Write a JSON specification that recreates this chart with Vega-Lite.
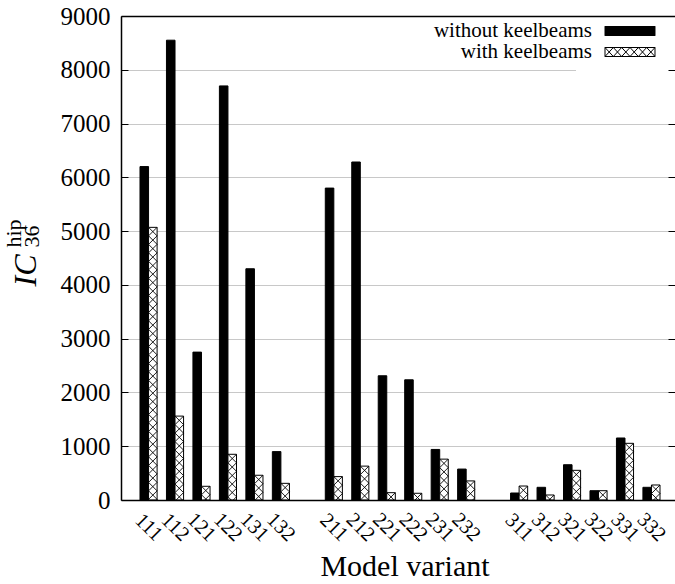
{
  "$schema": "https://vega.github.io/schema/vega-lite/v6.json",
  "width": 554,
  "height": 484,
  "autosize": {"type": "none"},
  "padding": {"left": 121, "top": 16, "right": 0, "bottom": 84},
  "background": "white",
  "config": {
    "font": "Liberation Serif",
    "view": {"stroke": null},
    "style": {
      "guide-label": {"font": "Liberation Serif"},
      "guide-title": {"font": "Liberation Serif"}
    },
    "axis": {
      "labelFont": "Liberation Serif",
      "titleFont": "Liberation Serif",
      "labelColor": "black",
      "titleColor": "black",
      "titleFontWeight": "normal"
    },
    "legend": {"labelFont": "Liberation Serif", "titleFont": "Liberation Serif"}
  },
  "data": {
    "values": [
      {"variant": "111", "series": "without keelbeams", "value": 6200},
      {"variant": "111", "series": "with keelbeams", "value": 5070},
      {"variant": "112", "series": "without keelbeams", "value": 8550},
      {"variant": "112", "series": "with keelbeams", "value": 1560},
      {"variant": "121", "series": "without keelbeams", "value": 2750},
      {"variant": "121", "series": "with keelbeams", "value": 255},
      {"variant": "122", "series": "without keelbeams", "value": 7700},
      {"variant": "122", "series": "with keelbeams", "value": 850},
      {"variant": "131", "series": "without keelbeams", "value": 4300},
      {"variant": "131", "series": "with keelbeams", "value": 460},
      {"variant": "132", "series": "without keelbeams", "value": 900},
      {"variant": "132", "series": "with keelbeams", "value": 310},
      {"variant": "211", "series": "without keelbeams", "value": 5800},
      {"variant": "211", "series": "with keelbeams", "value": 435},
      {"variant": "212", "series": "without keelbeams", "value": 6285},
      {"variant": "212", "series": "with keelbeams", "value": 630},
      {"variant": "221", "series": "without keelbeams", "value": 2310},
      {"variant": "221", "series": "with keelbeams", "value": 136},
      {"variant": "222", "series": "without keelbeams", "value": 2235},
      {"variant": "222", "series": "with keelbeams", "value": 125},
      {"variant": "231", "series": "without keelbeams", "value": 940},
      {"variant": "231", "series": "with keelbeams", "value": 760},
      {"variant": "232", "series": "without keelbeams", "value": 575},
      {"variant": "232", "series": "with keelbeams", "value": 355},
      {"variant": "311", "series": "without keelbeams", "value": 130},
      {"variant": "311", "series": "with keelbeams", "value": 260},
      {"variant": "312", "series": "without keelbeams", "value": 236},
      {"variant": "312", "series": "with keelbeams", "value": 93},
      {"variant": "321", "series": "without keelbeams", "value": 656},
      {"variant": "321", "series": "with keelbeams", "value": 552},
      {"variant": "322", "series": "without keelbeams", "value": 173},
      {"variant": "322", "series": "with keelbeams", "value": 173},
      {"variant": "331", "series": "without keelbeams", "value": 1153},
      {"variant": "331", "series": "with keelbeams", "value": 1054},
      {"variant": "332", "series": "without keelbeams", "value": 236},
      {"variant": "332", "series": "with keelbeams", "value": 279}
    ]
  },
  "layer": [
    {
      "mark": {"type": "bar", "stroke": "black", "strokeWidth": 1},
      "encoding": {
        "x": {
          "field": "variant",
          "type": "nominal",
          "sort": null,
          "scale": {
            "domain": ["111", "112", "121", "122", "131", "132", " ", "211", "212", "221", "222", "231", "232", "  ", "311", "312", "321", "322", "331", "332"],
            "paddingInner": 0.354,
            "paddingOuter": 0.642,
            "align": 0.559
          },
          "axis": {
            "orient": "bottom",
            "title": "Model variant",
            "titleFont": "Liberation Serif",
            "titleFontSize": 30,
            "titleX": 283.5,
            "titleY": 75,
            "titleAlign": "center",
            "titleBaseline": "alphabetic",
            "labelFont": "Liberation Serif",
            "labelAngle": 45,
            "labelAlign": "center",
            "labelBaseline": "middle",
            "labelPadding": 27,
            "labelFontSize": 20.5,
            "labelOverlap": false,
            "ticks": false,
            "tickSize": 0,
            "domain": true,
            "domainColor": "black",
            "domainWidth": 1.5,
            "grid": false,
            "zindex": 1
          }
        },
        "xOffset": {
          "field": "series",
          "type": "nominal",
          "scale": {"domain": ["without keelbeams", "with keelbeams"]}
        },
        "y": {
          "field": "value",
          "type": "quantitative",
          "scale": {"domain": [0, 9000], "nice": false},
          "axis": {
            "orient": "left",
            "values": [0, 1000, 2000, 3000, 4000, 5000, 6000, 7000, 8000, 9000],
            "format": "d",
            "title": "IC",
            "titleFont": "Liberation Serif",
            "titleFontStyle": "italic",
            "titleFontSize": 32,
            "titleAngle": 270,
            "titleAlign": "center",
            "titleBaseline": "alphabetic",
            "titleX": -86,
            "titleY": 254,
            "labelFont": "Liberation Serif",
            "labelFontSize": 25,
            "labelPadding": 18,
            "tickSize": -7,
            "tickColor": "black",
            "domainColor": "black",
            "domainWidth": 1.5,
            "grid": true,
            "gridColor": "#c8c8c8",
            "gridWidth": 1,
            "zindex": 0
          }
        },
        "fill": {
          "field": "series",
          "type": "nominal",
          "scale": {"domain": ["without keelbeams", "with keelbeams"], "range": ["black", "white"]},
          "legend": {
            "orient": "none",
            "legendX": 455,
            "legendY": -18.5,
            "title": null,
            "fillColor": "white",
            "padding": 23,
            "labelFont": "Liberation Serif",
            "labelFontSize": 21,
            "labelColor": "black",
            "labelAlign": "right",
            "labelBaseline": "middle",
            "labelOffset": -28,
            "rowPadding": -1.5,
            "symbolType": "M-1,-1H10.11V1H-1ZM-1,-1L0.85,1M0.85,-1L-1,1M0.85,-1L2.7,1M2.7,-1L0.85,1M2.7,-1L4.56,1M4.56,-1L2.7,1M4.56,-1L6.41,1M6.41,-1L4.56,1M6.41,-1L8.26,1M8.26,-1L6.41,1M8.26,-1L10.11,1M10.11,-1L8.26,1",
            "symbolSize": 81,
            "symbolStrokeColor": "black",
            "symbolStrokeWidth": 1,
            "zindex": 0,
            "encode": {
              "labels": {"update": {"font": {"value": "Liberation Serif"}}},
              "symbols": {"update": {"stroke": {"value": "black"}, "strokeWidth": {"value": 1}}}
            }
          }
        }
      }
    },
    {
      "transform": [{"filter": "datum.series === 'with keelbeams'"}],
      "mark": {
        "type": "point",
        "shape": "M-1,0L1,2L-1,4L1,6L-1,8L1,10L-1,12L1,14L-1,16L1,18L-1,20L1,22L-1,24L1,26L-1,28L1,30L-1,32L1,34L-1,36L1,38L-1,40L1,42L-1,44L1,46L-1,48L1,50L-1,52L1,54L-1,56L1,58L-1,60L1,62L-1,64L1,66L-1,68M1,0L-1,2L1,4L-1,6L1,8L-1,10L1,12L-1,14L1,16L-1,18L1,20L-1,22L1,24L-1,26L1,28L-1,30L1,32L-1,34L1,36L-1,38L1,40L-1,42L1,44L-1,46L1,48L-1,50L1,52L-1,54L1,56L-1,58L1,60L-1,62L1,64L-1,66L1,68",
        "size": 72.25,
        "filled": false,
        "stroke": "black",
        "strokeWidth": 0.9,
        "opacity": 1,
        "clip": true
      },
      "encoding": {
        "x": {
          "field": "variant",
          "type": "nominal",
          "sort": null,
          "scale": {
            "domain": ["111", "112", "121", "122", "131", "132", " ", "211", "212", "221", "222", "231", "232", "  ", "311", "312", "321", "322", "331", "332"]
          },
          "axis": {
            "orient": "top",
            "title": null,
            "labels": false,
            "ticks": false,
            "domain": true,
            "domainColor": "black",
            "domainWidth": 1.5,
            "grid": false,
            "zindex": 1
          }
        },
        "xOffset": {
          "field": "series",
          "type": "nominal",
          "scale": {"domain": ["without keelbeams", "with keelbeams"]}
        },
        "y": {
          "field": "value",
          "type": "quantitative",
          "scale": {"domain": [0, 9000], "nice": false},
          "axis": {
            "orient": "right",
            "values": [0, 1000, 2000, 3000, 4000, 5000, 6000, 7000, 8000, 9000],
            "labels": false,
            "tickSize": -7,
            "tickColor": "black",
            "domain": false,
            "grid": false,
            "zindex": 1,
            "title": ["hip", "36"],
            "titleFont": "Liberation Serif",
            "titleFontSize": 22,
            "titleFontStyle": "normal",
            "titleAngle": 270,
            "titleAlign": "left",
            "titleBaseline": "alphabetic",
            "titleLineHeight": 18,
            "titleX": -655,
            "titleY": 231
          }
        }
      }
    }
  ],
  "resolve": {"axis": {"x": "independent", "y": "independent"}}
}
